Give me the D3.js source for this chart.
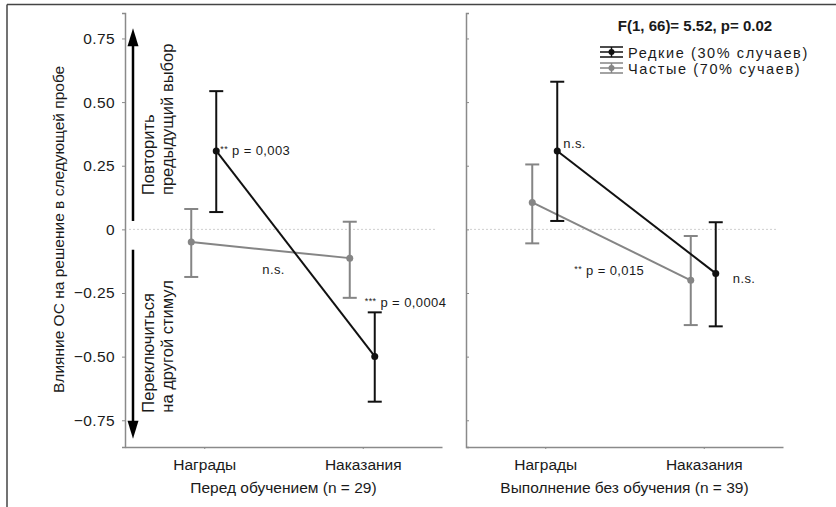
<!DOCTYPE html>
<html>
<head>
<meta charset="utf-8">
<script src="https://cdn.jsdelivr.net/npm/d3@7"></script>
<style>
  body { margin: 0; background: #fff; }
  text { font-family: Arial, "Liberation Sans", sans-serif; fill: #1a1a1a; }
</style>
</head>
<body>
<div id="chart"></div>
<script>
// Data
const panels = ["Перед обучением (n = 29)", "Выполнение без обучения (n = 39)"];
const feedback = ["Награды", "Наказания"];
const seriesNames = ["Редкие (30% случаев)", "Частые (70% сучаев)"];

// mean per panel, [Награды, Наказания]
const rareMean = [[0.308, -0.499], [0.308, -0.173]];
const rareLow = [[0.068, -0.677], [0.033, -0.381]];
const rareHigh = [[0.543, -0.326], [0.58, 0.028]];

const freqMean = [[-0.05, -0.113], [0.106, -0.2]];
const freqLow = [[-0.187, -0.269], [-0.055, -0.376]];
const freqHigh = [[0.08, 0.03], [0.255, -0.026]];

const yTicks = [-0.75, -0.5, -0.25, 0, 0.25, 0.5, 0.75];
const yTitle = "Влияние ОС на решение в следующей пробе";
const upLabel = ["Повторить", "предыдущий выбор"];
const downLabel = ["Переключиться", "на другой стимул"];
const statTitle = "F(1, 66)= 5.52, p= 0.02";

// notes: panel, category, stars, text
const notes = [
  { panel: 0, cat: 0, stars: "**", text: "p = 0,003" },
  { panel: 0, cat: 0, stars: "", text: "n.s." },
  { panel: 0, cat: 1, stars: "***", text: "p = 0,0004" },
  { panel: 1, cat: 0, stars: "", text: "n.s." },
  { panel: 1, cat: 0, stars: "**", text: "p = 0,015" },
  { panel: 1, cat: 1, stars: "", text: "n.s." },
];

// Dimensions
const width = 836;
const height = 507;
const panelLeft = [125, 466];
const panelWidth = 317;
const plotTop = 13;
const plotBottom = 447;

const svg = d3
  .select("#chart")
  .append("svg")
  .attr("width", width)
  .attr("height", height);

// frame (cropped picture: only top and left edges visible)
svg.append("line").attr("x1", 7).attr("x2", width).attr("y1", 4.5).attr("y2", 4.5)
  .attr("stroke", "#444").attr("stroke-width", 1.5);
svg.append("line").attr("x1", 7).attr("x2", 7).attr("y1", 4.5).attr("y2", height)
  .attr("stroke", "#444").attr("stroke-width", 1.5);

// Scales
const yScale = d3.scaleLinear().domain([-0.855, 0.85]).range([plotBottom, plotTop]);
const xScale = d3.scalePoint().domain(feedback).range([0, panelWidth]).padding(0.5);

const series = [
  { name: seriesNames[1], mean: freqMean, low: freqLow, high: freqHigh, color: "#858585", dx: -13 },
  { name: seriesNames[0], mean: rareMean, low: rareLow, high: rareHigh, color: "#111", dx: 12 },
];

const fmt = (d) => (d === 0 ? "0" : d3.format(".2f")(d));

panels.forEach((title, p) => {
  const g = svg.append("g").attr("transform", `translate(${panelLeft[p]},0)`);

  // zero reference line
  g.append("line")
    .attr("x1", 4)
    .attr("x2", panelWidth - 6)
    .attr("y1", yScale(0))
    .attr("y2", yScale(0))
    .attr("stroke", "#cfcfcf")
    .attr("stroke-width", 1)
    .attr("stroke-dasharray", "2,2");

  // y axis
  const yAxis = p === 0
    ? d3.axisLeft(yScale).tickValues(yTicks).tickSize(3).tickPadding(7).tickFormat(fmt)
    : d3.axisRight(yScale).tickValues(yTicks).tickSize(3).tickFormat("");
  const gy = g.append("g").call(yAxis);
  gy.select(".domain").attr("stroke", "#8a8a8a").attr("stroke-width", 1.5);
  gy.selectAll(".tick line").attr("stroke", "#8a8a8a");
  gy.selectAll(".tick text").style("font-size", "15.5px").style("letter-spacing", "0.4px").attr("fill", "#1a1a1a");

  // x axis
  const gx = g.append("g")
    .attr("transform", `translate(0,${plotBottom})`)
    .call(d3.axisBottom(xScale).tickSize(2).tickSizeOuter(0).tickPadding(10));
  gx.select(".domain").attr("stroke", "#8a8a8a").attr("stroke-width", 1.5);
  gx.selectAll(".tick line").attr("stroke", "#8a8a8a");
  gx.selectAll(".tick text").style("font-size", "15.5px").attr("fill", "#1a1a1a");

  g.append("text")
    .attr("x", panelWidth / 2)
    .attr("y", 493)
    .attr("text-anchor", "middle")
    .style("font-size", "15.5px")
    .text(title);

  // series
  series.forEach((s) => {
    const pts = feedback.map((f, i) => ({
      x: xScale(f) + s.dx,
      m: s.mean[p][i],
      lo: s.low[p][i],
      hi: s.high[p][i],
    }));

    g.append("path")
      .datum(pts)
      .attr("d", d3.line().x((d) => d.x).y((d) => yScale(d.m)))
      .attr("fill", "none")
      .attr("stroke", s.color)
      .attr("stroke-width", 2);

    const eb = g.selectAll(null).data(pts).enter().append("g");
    eb.append("line")
      .attr("x1", (d) => d.x).attr("x2", (d) => d.x)
      .attr("y1", (d) => yScale(d.lo)).attr("y2", (d) => yScale(d.hi))
      .attr("stroke", s.color).attr("stroke-width", 2);
    ["lo", "hi"].forEach((k) => {
      eb.append("line")
        .attr("x1", (d) => d.x - 7).attr("x2", (d) => d.x + 7)
        .attr("y1", (d) => yScale(d[k])).attr("y2", (d) => yScale(d[k]))
        .attr("stroke", s.color).attr("stroke-width", 2);
    });
    eb.append("circle")
      .attr("cx", (d) => d.x)
      .attr("cy", (d) => yScale(d.m))
      .attr("r", 3.5)
      .attr("fill", s.color);
  });
});

// annotation placement (dx from tick, value level of baseline)
const noteLayout = [
  { dx: 16, v: 0.292 },
  { dx: 58, v: -0.175 },
  { dx: 2, v: -0.305 },
  { dx: 18, v: 0.32 },
  { dx: 29, v: -0.179 },
  { dx: 29, v: -0.211 },
];
notes.forEach((n, i) => {
  const t = svg.append("text")
    .attr("x", panelLeft[n.panel] + xScale(feedback[n.cat]) + noteLayout[i].dx)
    .attr("y", yScale(noteLayout[i].v))
    .style("font-size", "13px")
    .style("letter-spacing", "0.4px");
  if (n.stars) {
    t.append("tspan").style("font-size", "9px").attr("dy", -3).text(n.stars);
    t.append("tspan").attr("dy", 3).text(" " + n.text);
  } else {
    t.text(n.text);
  }
});

// y title
svg.append("text")
  .attr("transform", `translate(64,${yScale(0)}) rotate(-90)`)
  .attr("text-anchor", "middle")
  .style("font-size", "15.5px")
  .text(yTitle);

// direction arrows
const ax = 133;
function arrow(from, to) {
  const y0 = yScale(from);
  const y1 = yScale(to);
  const dir = y1 < y0 ? 1 : -1;
  svg.append("line")
    .attr("x1", ax).attr("x2", ax)
    .attr("y1", y0).attr("y2", y1 + dir * 10)
    .attr("stroke", "#000").attr("stroke-width", 2.5);
  svg.append("path")
    .attr("d", `M${ax},${y1} L${ax - 5.5},${y1 + dir * 18} L${ax + 5.5},${y1 + dir * 18} Z`)
    .attr("fill", "#000");
}
arrow(0.033, 0.79);
arrow(-0.08, -0.823);

function sideLabel(lines, startV) {
  lines.forEach((l, i) => {
    svg.append("text")
      .attr("transform", `translate(${154 + i * 19},${yScale(startV)}) rotate(-90)`)
      .style("font-size", "16.5px")
      .text(l);
  });
}
sideLabel(upLabel, 0.135);
sideLabel(downLabel, -0.72);

// stat title and legend
svg.append("text")
  .attr("x", 695)
  .attr("y", 31)
  .attr("text-anchor", "middle")
  .style("font-size", "15px")
  .style("font-weight", "bold")
  .text(statTitle);

const legend = svg.append("g").attr("transform", "translate(600,52)");
[series[1], series[0]].forEach((s, i) => {
  const lg = legend.append("g").attr("transform", `translate(0,${i * 16})`);
  [-5, 0, 5].forEach((dy) => {
    lg.append("line").attr("x1", 0).attr("x2", 23).attr("y1", dy).attr("y2", dy)
      .attr("stroke", s.color).attr("stroke-width", 1.5);
  });
  lg.append("line").attr("x1", 11.5).attr("x2", 11.5).attr("y1", -5).attr("y2", 5)
    .attr("stroke", s.color).attr("stroke-width", 1.5);
  lg.append("circle").attr("cx", 11.5).attr("cy", 0).attr("r", 3).attr("fill", s.color);
  lg.append("text").attr("x", 28).attr("y", 6)
    .style("font-size", "14.5px")
    .style("letter-spacing", "1.6px")
    .text(s.name);
});
</script>
</body>
</html>
